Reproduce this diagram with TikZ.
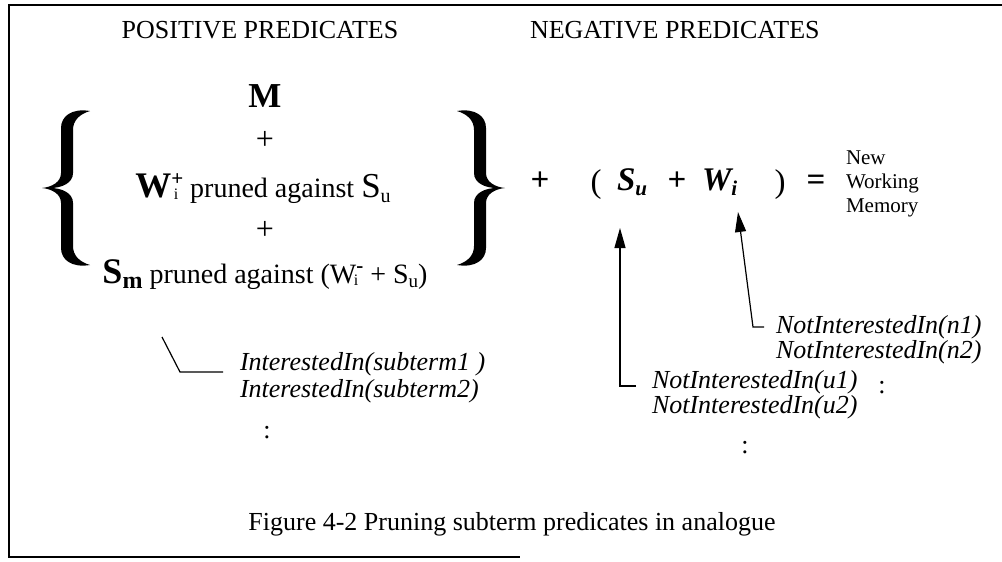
\documentclass[tikz,border=0pt]{standalone}
\usepackage{fontspec}
\setmainfont{Liberation Serif}
\usetikzlibrary{arrows.meta}
\newcommand{\fs}[1]{\fontsize{#1}{#1}\selectfont}
\newcommand{\sps}[3]{\raisebox{#3}{\fs{21}\bfseries #1}\llap{\raisebox{-2pt}{\fs{16}#2}\hspace{5pt}}}
\newcommand{\bracepath}{(48,-77) .. controls (30,-80) and (19,-72) .. (19,-60) -- (19,-15) .. controls (19,-6) and (10,-1) .. (0,0) .. controls (10,1) and (19,6) .. (19,15) -- (19,60) .. controls (19,72) and (30,80) .. (48,77) .. controls (38,74) and (31,68) .. (31,58) -- (31,15) .. controls (31,5) and (20,0) .. (8,0) .. controls (20,0) and (31,-5) .. (31,-15) -- (31,-58) .. controls (31,-68) and (38,-74) .. (48,-77) -- cycle}
\begin{document}
\begin{tikzpicture}[x=1pt,y=-1pt,
  txt/.style={inner sep=0pt, outer sep=0pt},
  head/.style={txt, font=\fs{26}, anchor=base},
  ital/.style={txt, font=\fs{26}\itshape, anchor=base west},
  eq/.style={txt, font=\fs{33}\bfseries\itshape, anchor=base west},
  lnk/.style={line width=1.2pt},
  arr/.style={lnk, -{Triangle[length=20pt,width=11pt]}},
  frameline/.style={line width=2pt}]
\useasboundingbox (0,0) rectangle (1002,562);
\draw[frameline] (1002,5) -- (9,5) -- (9,557) -- (520,557);
% headers
\node[head] (pos) at (260,38) {POSITIVE PREDICATES};
\node[head, anchor=base west] (neg) at (530,38) {NEGATIVE PREDICATES};
% braces
\begin{scope}[shift={(42,188)}]
\fill \bracepath;
\end{scope}
\begin{scope}[shift={(505,188)}, xscale=-1]
\fill \bracepath;
\end{scope}
% positive block
\node[txt, font=\fs{35}\bfseries, anchor=base] (M) at (265,107) {M};
\node[txt, font=\fs{32}] (p1) at (265,140) {+};
\node[txt, anchor=base] (wline) at (263,197) {{\fs{36}\bfseries W}\sps{+}{i}{12pt}{\fs{28} pruned against }{\fs{35}S}\raisebox{-5pt}{\fs{20}u}};
\node[txt, font=\fs{32}] (p2) at (265,230) {+};
\node[txt, anchor=base] (sline) at (265,283) {{\fs{36}\bfseries S}\raisebox{-5pt}{\fs{24}\bfseries m}{\fs{28} pruned against (W}\sps{-}{i}{11pt}{\fs{28} + S}\raisebox{-4pt}{\fs{19}u}{\fs{28})}};
% right equation
\node[txt, font=\fs{33}\bfseries, anchor=base] (p3) at (540,190) {+};
\node[txt, font=\fs{33}, anchor=base] (lp) at (596,192) {(};
\node[eq] (Su) at (617,190) {S\raisebox{-5pt}{\fs{21}u}};
\node[txt, font=\fs{33}\bfseries, anchor=base] (p4) at (677,190) {+};
\node[eq] (Wi) at (702,190) {W\raisebox{-5pt}{\fs{21}i}};
\node[txt, font=\fs{33}, anchor=base] (rp) at (780,192) {)};
\node[txt, font=\fs{33}\bfseries, anchor=base] (eqs) at (816,190) {=};
\node[txt, font=\fontsize{21}{24}\selectfont, align=left, anchor=west] (nwm) at (846,184) {New\\Working\\Memory};
% predicate lists
\node[ital] (i1) at (240,370) {InterestedIn(subterm1 )};
\node[ital] (i2) at (240,397) {InterestedIn(subterm2)};
\node[txt, font=\fs{26}] (i3) at (267,433) {:};
\node[ital] (n1) at (776,333) {NotInterestedIn(n1)};
\node[ital] (n2) at (776,358) {NotInterestedIn(n2)};
\node[ital] (u1) at (652,388) {NotInterestedIn(u1)};
\node[ital] (u2) at (652,413) {NotInterestedIn(u2)};
\node[txt, font=\fs{26}] (c1) at (882,388) {:};
\node[txt, font=\fs{26}] (c2) at (745,448) {:};
% connectors
\coordinate (k1) at (162,337);
\coordinate (k2) at (180,372);
\coordinate (k3) at (223,372);
\draw[lnk] (k1) -- (k2) -- (k3);
\coordinate (a1s) at (636,386);
\coordinate (a1c) at (620,386);
\coordinate (a1t) at (620,228);
\draw[arr] (a1s) -- (a1c) -- (a1t);
\coordinate (a2s) at (764,327);
\coordinate (a2c) at (753,327);
\coordinate (a2t) at (738,212);
\draw[arr] (a2s) -- (a2c) -- (a2t);
% caption
\node[txt, font=\fs{26}, anchor=base] (cap) at (512,530) {Figure 4-2 Pruning subterm predicates in analogue};
\end{tikzpicture}
\end{document}
